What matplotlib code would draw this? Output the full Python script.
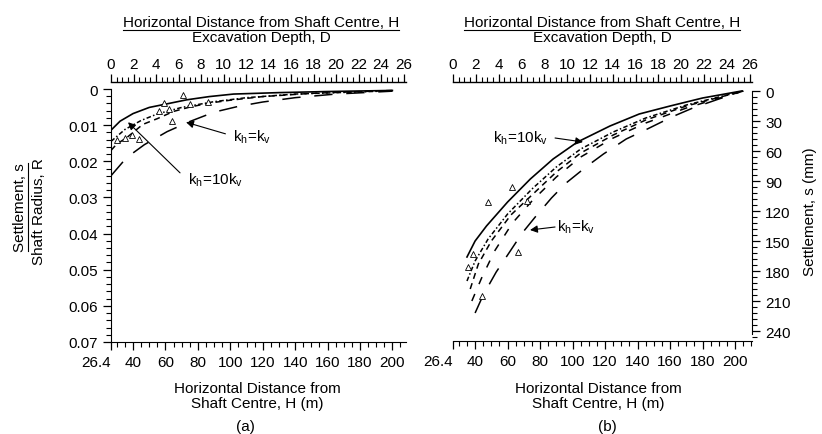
import numpy as np
import matplotlib
matplotlib.use("Agg")
import matplotlib.pyplot as plt
from matplotlib.lines import Line2D
from matplotlib.ticker import MultipleLocator, FixedLocator

plt.rcParams["font.family"] = ["Liberation Sans", "DejaVu Sans"]
plt.rcParams["font.size"] = 11
plt.rcParams["mathtext.fontset"] = "custom"
plt.rcParams["mathtext.rm"] = "Liberation Sans"

# ---- panel (a): normalised settlement s/R vs horizontal distance H (m)
a_solid_h = [26.4, 32, 40, 50, 61, 73, 87, 102, 130, 160, 200]
a_solid_s = [0.0114, 0.0089, 0.0068, 0.0051, 0.0041, 0.0030, 0.0021, 0.0014, 0.0010, 0.0007, 0.0004]
a_dashdot_h = [26.4, 35, 45, 55, 70, 90, 110, 140, 200]
a_dashdot_s = [0.0145, 0.0112, 0.0087, 0.0069, 0.0051, 0.0035, 0.0024, 0.0014, 0.0005]
a_dash_h = [26.4, 30, 36, 46, 55, 65, 75, 87, 100, 120, 150, 200]
a_dash_s = [0.0170, 0.0152, 0.0135, 0.0098, 0.0082, 0.0062, 0.0050, 0.0039, 0.0031, 0.0021, 0.0012, 0.0004]
a_long_h = [26.4, 36, 47, 61, 75, 90, 105, 120, 140, 165, 200]
a_long_s = [0.024, 0.019, 0.0154, 0.0118, 0.0090, 0.0064, 0.0048, 0.0036, 0.0024, 0.0014, 0.0006]
a_tri_h = [30, 35, 39.4, 43.7, 56, 59, 62, 64, 71, 75, 86]
a_tri_s = [0.0140, 0.0135, 0.0127, 0.0138, 0.0062, 0.0038, 0.0054, 0.0089, 0.0016, 0.0042, 0.0035]

# ---- panel (b): settlement s (mm) vs horizontal distance H (m)
b_solid_h = [35, 40, 47, 60, 74, 88, 103, 123, 141, 160, 180, 204]
b_solid_s = [166, 150, 135, 111, 88, 68, 51, 35, 23, 15, 7, 0]
b_dashdot_h = [35, 40, 48, 60, 75, 90, 105, 125, 145, 170, 205]
b_dashdot_s = [190, 170, 148, 123, 98, 76, 58, 41, 27, 14, 0]
b_dash_h = [37, 42, 50, 62, 75, 90, 105, 125, 145, 170, 205]
b_dash_s = [198, 173, 150, 124, 104, 81, 62, 44, 29, 15, 0]
b_mdash_h = [38, 44, 52, 63, 75, 90, 105, 125, 145, 170, 205]
b_mdash_s = [210, 187, 160, 132, 110, 86, 66, 47, 32, 17, 0]
b_long_h = [40, 45, 53, 60, 69, 77, 87, 96, 109, 119, 133, 146, 161, 174, 190, 205]
b_long_s = [222, 204, 181, 164, 142, 126, 107, 92, 75, 63, 48, 38, 26, 17, 8, 0]
b_tri_h = [35.5, 38.5, 44, 48, 62.7, 66.4, 72]
b_tri_s = [176, 163, 205, 111, 96, 161, 110]

bottom_ticks = [26.4, 40, 60, 80, 100, 120, 140, 160, 180, 200]
bottom_labels = ["26.4", "40", "60", "80", "100", "120", "140", "160", "180", "200"]

W, H = 822, 435
fig = plt.figure(figsize=(W / 100, H / 100), dpi=100)


def px_axes(left, top, right, bottom):
    return fig.add_axes([left / W, 1 - bottom / H, (right - left) / W, (bottom - top) / H])


def style_ruler(ax):
    ax.tick_params(which="major", direction="out", length=6, width=0.9, color="k")
    ax.tick_params(which="minor", direction="out", length=3.5, width=0.8, color="k")


def add_top(ax):
    top = ax.twiny()
    top.set_xlim(0, 26.2)
    top.xaxis.set_major_locator(MultipleLocator(2))
    top.xaxis.set_minor_locator(MultipleLocator(0.5))
    for s in ["left", "right", "bottom"]:
        top.spines[s].set_visible(False)
    top.spines["top"].set_position(("outward", 5))
    top.spines["top"].set_linewidth(1.0)
    style_ruler(top)
    top.tick_params(axis="x", pad=2)
    return top


def set_bottom(ax, xmax):
    ax.set_xlim(26.4, xmax)
    ax.xaxis.set_major_locator(FixedLocator(bottom_ticks))
    ax.set_xticklabels(bottom_labels)
    ax.get_xticklabels()[0].set_horizontalalignment("right")
    ax.xaxis.set_minor_locator(FixedLocator(np.arange(30, xmax, 5)))
    style_ruler(ax)
    ax.spines["top"].set_visible(False)


# ---------------- (a)
ax1 = px_axes(111, 90, 406, 343)
ax1.plot(a_solid_h, a_solid_s, color="k", lw=1.2)
ax1.plot(a_dashdot_h, a_dashdot_s, color="k", lw=1.1, linestyle=(0, (3, 1.5, 1, 1.5)))
ax1.plot(a_dash_h, a_dash_s, color="k", lw=1.1, linestyle=(0, (4, 3)))
ax1.plot(a_long_h, a_long_s, color="k", lw=1.1, linestyle=(0, (12, 9)))
ax1.plot(a_tri_h, a_tri_s, linestyle="none", marker="^", ms=4, mfc="white", mec="k", mew=0.6)
ax1.set_ylim(0.07, 0)
ax1.set_yticks([0, 0.01, 0.02, 0.03, 0.04, 0.05, 0.06, 0.07])
ax1.set_yticklabels(["0", "0.01", "0.02", "0.03", "0.04", "0.05", "0.06", "0.07"])
ax1.yaxis.set_minor_locator(MultipleLocator(0.002))
ax1.spines["right"].set_visible(False)
set_bottom(ax1, 208.4)
add_top(ax1)

arrow = dict(arrowstyle="-|>", color="k", lw=0.8, mutation_scale=11, shrinkA=0, shrinkB=0)
ax1.annotate("", xy=(36.9, 0.0092), xytext=(69, 0.0232), arrowprops=arrow)
ax1.text(74, 0.0249, r"k$_\mathregular{h}$=10k$_\mathregular{v}$", va="center", ha="left")
ax1.annotate("", xy=(72.7, 0.0092), xytext=(97, 0.0124), arrowprops=arrow)
ax1.text(101.7, 0.0130, r"k$_\mathregular{h}$=k$_\mathregular{v}$", va="center", ha="left")

# ---------------- (b)
ax2 = px_axes(453, 90, 752, 342)
ax2.plot(b_solid_h, b_solid_s, color="k", lw=1.2)
ax2.plot(b_dashdot_h, b_dashdot_s, color="k", lw=1.1, linestyle=(0, (3, 1.5, 1, 1.5)))
ax2.plot(b_dash_h, b_dash_s, color="k", lw=1.1, linestyle=(0, (4, 3)))
ax2.plot(b_mdash_h, b_mdash_s, color="k", lw=1.1, linestyle=(0, (5, 7)))
ax2.plot(b_long_h, b_long_s, color="k", lw=1.1, linestyle=(0, (12, 9)))
ax2.plot(b_tri_h, b_tri_s, linestyle="none", marker="^", ms=4, mfc="white", mec="k", mew=0.6)
ax2.set_ylim(250, -2)
ax2.yaxis.tick_right()
ax2.yaxis.set_major_locator(MultipleLocator(30))
ax2.yaxis.set_minor_locator(MultipleLocator(6))
ax2.spines["left"].set_visible(False)
ax2.spines["right"].set_bounds(0, 243)
set_bottom(ax2, 210.4)
ax2.tick_params(axis="y", which="both", left=False, right=True)
add_top(ax2)

ax2.annotate("", xy=(106.4, 51), xytext=(89.2, 47), arrowprops=arrow)
ax2.text(51, 46, r"k$_\mathregular{h}$=10k$_\mathregular{v}$", va="center", ha="left")
ax2.annotate("", xy=(73.8, 139), xytext=(89.2, 136), arrowprops=arrow)
ax2.text(90.4, 135, r"k$_\mathregular{h}$=k$_\mathregular{v}$", va="center", ha="left")


# ---------------- figure texts
def ftext(x, y, s, **kw):
    return fig.text(x / W, 1 - y / H, s, ha="center", va="center", **kw)


titles = []
for cx in (261, 602):
    titles.append(ftext(cx, 23, "Horizontal Distance from Shaft Centre, H"))
    ftext(cx, 38, "Excavation Depth, D")
    ftext(cx - 4, 389, "Horizontal Distance from")
    ftext(cx - 4, 404, "Shaft Centre, H (m)")
ftext(245, 427, "(a)")
ftext(607, 427, "(b)")

ylab_top = ftext(20, 208, "Settlement, s", rotation=90)
ftext(39, 212, "Shaft Radius, R", rotation=90)
ftext(810, 212, "Settlement, s (mm)", rotation=90)

# underline the numerators of the fraction-style labels
fig.canvas.draw()
r = fig.canvas.get_renderer()
for t in titles:
    bb = t.get_window_extent(r)
    y = bb.y0 - 1
    fig.add_artist(Line2D([bb.x0 / W, bb.x1 / W], [y / H, y / H], color="k", lw=0.8))
bb = ylab_top.get_window_extent(r)
x = bb.x1 + 1
fig.add_artist(Line2D([x / W, x / W], [bb.y0 / H, bb.y1 / H], color="k", lw=0.8))

fig.savefig("out.png", dpi=100)
